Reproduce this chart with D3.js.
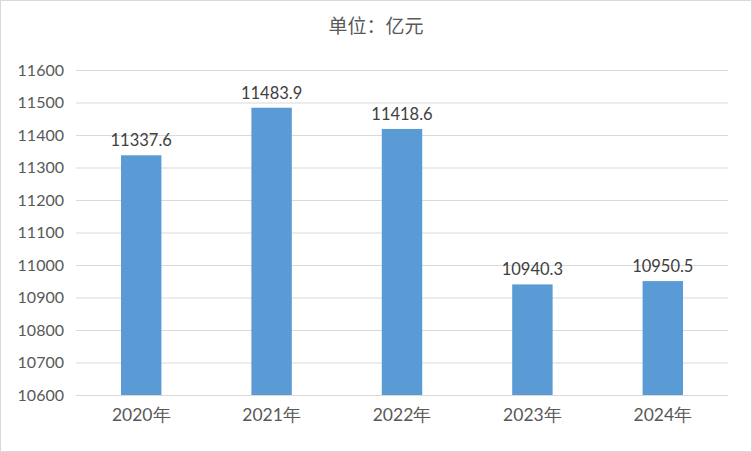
<!DOCTYPE html>
<html><head><meta charset="utf-8">
<script src="https://cdn.jsdelivr.net/npm/d3@7"></script>
<style>body{margin:0;background:#fff}svg{display:block}</style>
</head><body>
<script>
const categories = ["2020年","2021年","2022年","2023年","2024年"];
const values = [11337.6, 11483.9, 11418.6, 10940.3, 10950.5];
const valueLabels = ["11337.6","11483.9","11418.6","10940.3","10950.5"];
const yTicks = [10600,10700,10800,10900,11000,11100,11200,11300,11400,11500,11600];
const title = "单位：亿元";

const W = 752, H = 452;
const svg = d3.select("body").append("svg").attr("width", W).attr("height", H);
svg.append("rect").attr("x",0.5).attr("y",0.5).attr("width",W-1).attr("height",H-1)
  .attr("fill","#fff").attr("stroke","#d9d9d9");

const font = "Lato, 'Open Sans', sans-serif";
const x = d3.scaleBand().domain(categories).range([76, 728]).paddingInner(0.69).paddingOuter(0.345);
const y = d3.scaleLinear().domain([10600, 11600]).range([395, 70]);

svg.append("text").attr("x", 376).attr("y", 33).attr("text-anchor","middle")
  .attr("font-family", "'Noto Sans CJK SC', sans-serif").attr("font-size", 19).attr("fill","#595959").text(title);

const yAxis = svg.append("g").attr("transform","translate(76,0)")
  .call(d3.axisLeft(y).tickValues(yTicks).tickSize(-652).tickPadding(12).tickFormat(d3.format("d")));
yAxis.select(".domain").remove();
yAxis.selectAll("line").attr("stroke","#d9d9d9").attr("stroke-width",1);
yAxis.selectAll("text").attr("font-family",font).attr("font-size",16).attr("fill","#595959");

svg.selectAll("rect.bar").data(values).enter().append("rect").attr("class","bar")
  .attr("x",(d,i)=>x(categories[i])).attr("width",x.bandwidth())
  .attr("y",d=>y(d)).attr("height",d=>y(10600)-y(d)).attr("fill","#5b9bd5");

svg.selectAll("text.val").data(values).enter().append("text").attr("class","val")
  .attr("x",(d,i)=>x(categories[i])+x.bandwidth()/2).attr("y",d=>y(d)-9)
  .attr("text-anchor","middle").attr("font-family",font).attr("font-size",16.5).attr("fill","#404040")
  .text((d,i)=>valueLabels[i]);

const xAxis = svg.append("g").attr("transform","translate(0,395)")
  .call(d3.axisBottom(x).tickSize(0).tickPadding(14));
xAxis.select(".domain").remove();
xAxis.selectAll("text").attr("font-family",font).attr("font-size",17.5).attr("fill","#595959");
</script>
</body></html>
